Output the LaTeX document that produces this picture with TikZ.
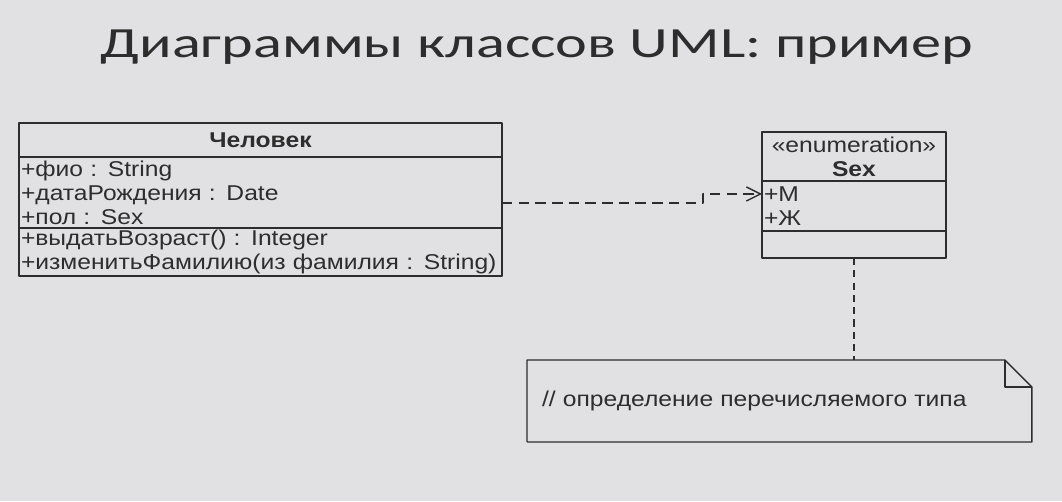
\documentclass[tikz,border=0pt]{standalone}
\usepackage{fontspec}
\setmainfont{Liberation Sans}
\newfontfamily\titlefont[FakeStretch=1.4]{Carlito}
\newfontfamily\umlfont[FakeStretch=1.15]{Liberation Sans}
\usetikzlibrary{positioning,arrows.meta}
\definecolor{bg}{RGB}{225,225,227}
\definecolor{ink}{RGB}{45,45,45}
\tikzset{
  part/.style={draw=ink, line width=0.8pt, inner xsep=0.04cm, inner ysep=0pt,
    outer sep=0pt, anchor=north west, align=left, text=ink,
    font=\umlfont\fontsize{12.2}{13.7}\selectfont},
  depend/.style={draw=ink, line width=0.8pt, dash pattern=on 6pt off 3.5pt,
    -{Straight Barb[length=8pt,width=8pt]}},
  noteline/.style={draw=ink, line width=0.8pt, dash pattern=on 4pt off 3pt}
}
\begin{document}
\begin{tikzpicture}[x=0.02cm, y=-0.02cm, line join=round]
\fill[bg] (0,0) rectangle (1062,501);
\useasboundingbox (0,0) rectangle (1062,501);
\node[font=\titlefont\fontsize{24.5}{28}\selectfont, text=ink, anchor=base] (title) at (537,57) {Диаграммы классов UML: пример};
% class
\node[part, text width=9.58cm, minimum height=0.68cm, align=center, font=\umlfont\fontsize{12.2}{13.7}\selectfont\bfseries] (chelName) at (19,123) {Человек};
\node[part, text width=9.58cm, minimum height=1.42cm, below=0pt of chelName] (chelAttr) {+фио : String\\+датаРождения : Date\\+пол : Sex};
\node[part, text width=9.58cm, minimum height=0.96cm, below=0pt of chelAttr] (chelOps) {+выдатьВозраст() : Integer\\+изменитьФамилию(из фамилия : String)};
% enumeration
\node[part, text width=3.6cm, minimum height=0.98cm, align=center] (sexName) at (762,132) {«enumeration»\\\textbf{Sex}};
\node[part, text width=3.6cm, minimum height=1.0cm, below=0pt of sexName] (sexAttr) {+М\\+Ж};
\node[part, text width=3.6cm, minimum height=0.54cm, below=0pt of sexAttr] (sexOps) {};
% note
\node[part, draw=none, text width=9.5cm, inner xsep=0.3cm, minimum height=1.64cm] (note) at (527,360) {// определение перечисляемого типа};
\draw[ink, line width=0.8pt] (note.south west) |- ([xshift=-0.54cm]note.north east) -- ([yshift=-0.54cm]note.north east) |- (note.south west);
\draw[ink, line width=0.8pt] ([xshift=-0.54cm]note.north east) |- ([yshift=-0.54cm]note.north east);
% links
\draw[depend] ([yshift=-0.21cm]chelAttr.east) -- ++(201,0) |- ([yshift=0.24cm]sexAttr.west);
\draw[noteline] (sexOps.south) -- (sexOps.south |- note.north);
\end{tikzpicture}
\end{document}
